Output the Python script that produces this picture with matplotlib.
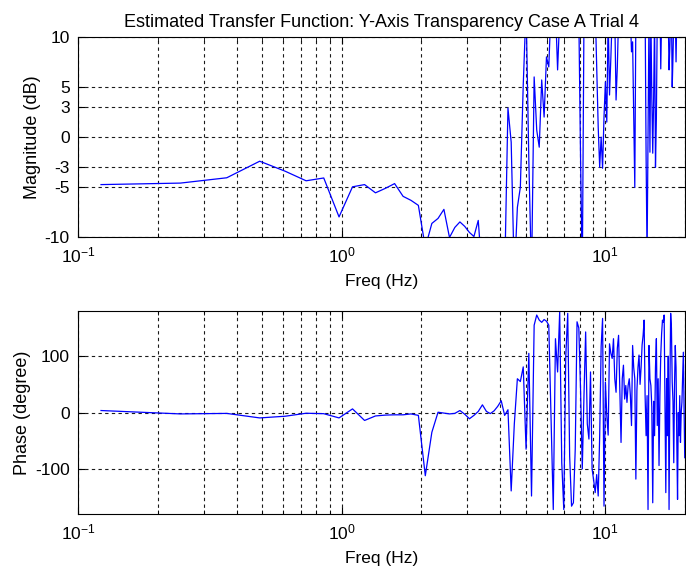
import numpy as np
import matplotlib
matplotlib.use('Agg')
import matplotlib.pyplot as plt
from matplotlib.ticker import LogLocator, FixedLocator, NullFormatter

plt.rcParams['font.family'] = ['Liberation Sans', 'DejaVu Sans']
plt.rcParams['mathtext.fontset'] = 'custom'
plt.rcParams['mathtext.rm'] = 'Liberation Sans'
plt.rcParams['mathtext.it'] = 'Liberation Sans'
plt.rcParams['axes.unicode_minus'] = False

# frequency bin spacing of the estimate (Hz)
df = 0.12207

# magnitude in dB, one value per bin (values outside +-10 run off the plot)
mag_db = [
    -4.73, -4.58, -4.05, -2.4, -3.4, -4.35, -4.07, -7.95, -4.95, -4.73,
    -5.55, -5.1, -4.63, -5.9, -6.3, -6.8, -11.0, -8.6, -8.1, -7.2,
    -10.0, -9.0, -8.45, -8.9, -9.5, -9.9, -8.3, -14, -14, -14,
    -14, -14, -14, -14, 2.9, -0.5, -14, -7.0, -5.0, 5.2,
    13, -2.3, -14, 6.0, 0.7, -1.0, 5.7, 2.0, 8.0, 7.0,
    13, 12, 13, 6.7, 12, 14, 13, 12, 15, 13,
    12, 14, 13, 13, 12, -2.1, -14, 12, 13, 12,
    14, 12, 13, 12, 13, 7.0, 1.0, -3.0, 0.0, -3.1,
    2.0, 5.5, 1.5, 12, 4.2, 7.9, 12, 13, 12, 3.7,
    7.0, 12, 13, 12, 14, 12, 13, 12, 14, 12,
    13, 12, 8.5, 9.5, 2.5, -5.0, 12, 13, 12, 14,
    12, 13, 12, 14, 12, 13, -1.8, -12, 0.5, 12,
    -1.5, 12, 4.0, -1.6, 4.0, 12, -3.0, 1.9, 12, 13,
    12, 14, 6.8, 12, 13, 12, 14, 12, 13, 12,
    14, 12, 6.7, 9.0, 12, 13, 5.0, 8.0, 12, 13,
    12, 7.5, 12, 14, 12, 13, 12, 14, 12, 13,
    12, 14, 12, 13,
]

# phase in degrees, one value per bin
phase_deg = [
    3.6, -2.4, -1.5, -9.5, -6.5, -1.2, -2.0, -9.5, 6.5, -14,
    -6, -4.5, -4, -4, -2.4, -5, -112, -35, 0.6, -1,
    -2.4, -1.5, 3.6, -3, -11, -5, 2, 13.7, 2, -1.8,
    3, 11, 21, -5, 5, -139, -20, 60, 55, 81,
    -65, 105, -148, 155, 173, 164, 160, 165, 162, 155,
    -11, -172, 131, 72, 179, -89, -172, 100, 176, -77,
    -166, -160, -65, 161, 150, 40, -100, 30, 143, -20,
    -47, 72, -100, -120, -142, -110, -148, -41, 117, 167,
    -166, 54, -5, -40, 122, 105, 96, 131, 60, 36,
    114, 137, 40, -53, 60, 84, 24, 48, 18, 48,
    60, 30, -23, 119, 80, 60, -118, 40, 80, 102,
    50, 80, 120, 137, 164, 30, -41, 30, -172, 119,
    60, 48, 10, -160, 20, -41, 80, 131, -23, 60,
    -94, 30, 102, 140, 164, 160, 173, 10, -142, 60,
    -41, 100, -172, 40, 176, 150, 54, 20, -89, 50,
    119, 80, -50, -154, 0, -41, 30, -53, 0, 18,
    60, 107, 20, -80,
]

mag_ticks = [-10, -5, -3, 0, 3, 5, 10]
phase_ticks = [-100, 0, 100]

freq = df * np.arange(1, len(mag_db) + 1)

fig = plt.figure(figsize=(6.86, 5.75), dpi=100)
ax1 = fig.add_axes([0.114, 0.587, 0.884, 0.349])
ax2 = fig.add_axes([0.114, 0.106, 0.884, 0.353])

def style(ax):
    ax.set_xscale('log')
    ax.set_xlim(0.1, 20)
    ax.xaxis.set_major_locator(LogLocator(base=10))
    ax.xaxis.set_minor_locator(LogLocator(base=10, subs=np.arange(2, 10)))
    ax.xaxis.set_minor_formatter(NullFormatter())
    ax.grid(True, which='major', color='0.1', linestyle=(0, (3, 3)), linewidth=0.8)
    ax.grid(True, which='minor', axis='x', color='0.1', linestyle=(0, (3, 3)), linewidth=0.8)
    ax.tick_params(which='both', direction='in', top=True, right=True, labelsize=12.5, pad=6)
    ax.tick_params(which='major', length=5)
    ax.tick_params(which='minor', length=3)
    for s in ax.spines.values():
        s.set_linewidth(0.8)
    ax.set_xlabel('Freq (Hz)', fontsize=12.5, labelpad=6)

ax1.plot(freq, mag_db, color='#0000ff', linewidth=0.9)
style(ax1)
ax1.set_ylim(-10, 10)
ax1.yaxis.set_major_locator(FixedLocator(mag_ticks))
ax1.set_ylabel('Magnitude (dB)', fontsize=13, labelpad=3)
ax1.set_title('Estimated Transfer Function: Y-Axis Transparency Case A Trial 4', fontsize=13, pad=7)

ax2.plot(freq, phase_deg, color='#0000ff', linewidth=0.9)
style(ax2)
ax2.set_ylim(-180, 180)
ax2.yaxis.set_major_locator(FixedLocator(phase_ticks))
ax2.set_ylabel('Phase (degree)', fontsize=13, labelpad=3)

fig.savefig('out.png', dpi=100)
